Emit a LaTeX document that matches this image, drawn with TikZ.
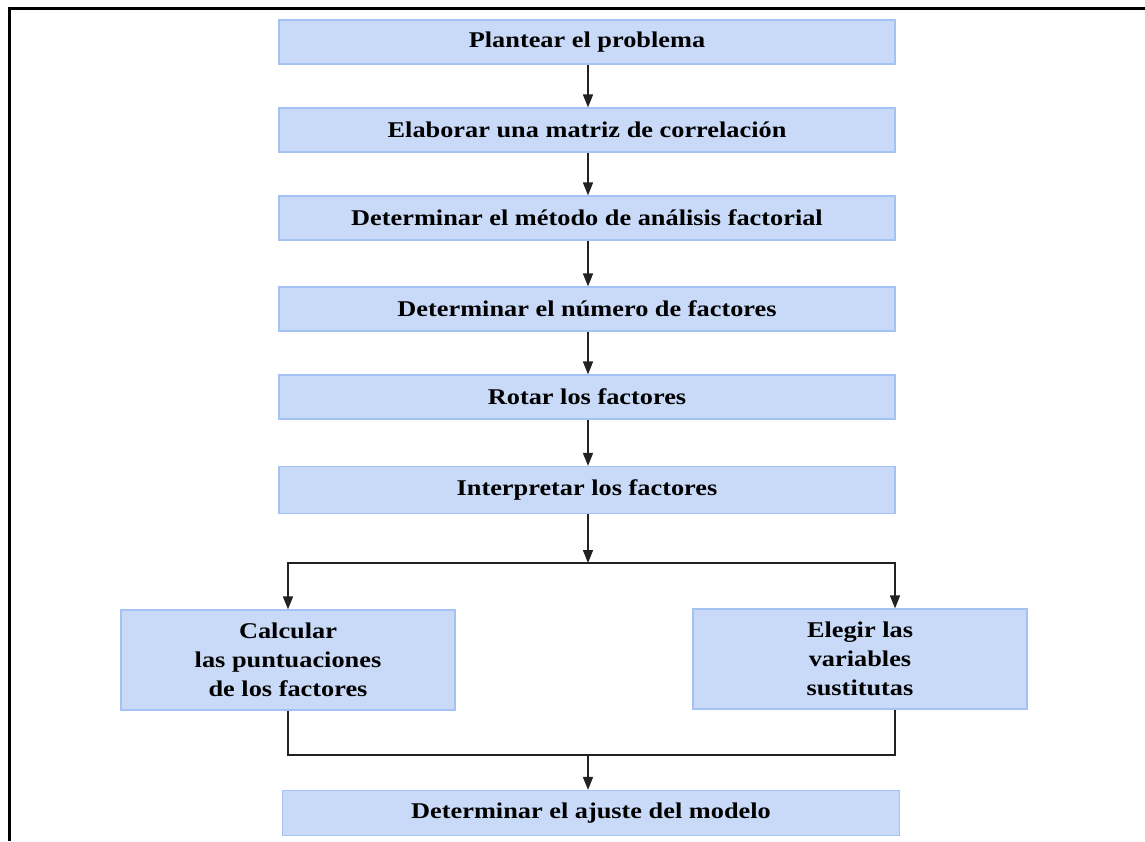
\documentclass[tikz,border=0pt]{standalone}
\usepackage{fontspec}
\setmainfont[FakeStretch=1.17]{Liberation Serif}
\usetikzlibrary{arrows.meta}
\definecolor{boxfill}{HTML}{C9DAF8}
\definecolor{boxline}{HTML}{A4C2F4}
\definecolor{linec}{HTML}{222222}
\begin{document}
\begin{tikzpicture}[x=1pt,y=-1pt,
  stepbox/.style={draw=boxline, fill=boxfill, line width=1.2pt, rectangle, inner sep=0pt,
    minimum width=616pt, minimum height=44pt, align=center,
    font=\fontsize{22.5}{29}\selectfont\bfseries},
  sidebox/.style={stepbox, minimum width=334pt, minimum height=100pt},
  conn/.style={draw=linec, line width=1.5pt},
  arr/.style={conn, -{Triangle[width=10pt,length=13pt]}}]
\useasboundingbox (0,0) rectangle (1145,841);
\draw[line width=3pt] (9,841) -- (9,8) -- (1145,8);
\node[stepbox] (b1) at (587,42) {Plantear el problema};
\node[stepbox] (b2) at (587,130) {Elaborar una matriz de correlación};
\node[stepbox] (b3) at (587,218) {Determinar el método de análisis factorial};
\node[stepbox] (b4) at (587,309) {Determinar el número de factores};
\node[stepbox] (b5) at (587,397) {Rotar los factores};
\node[stepbox, minimum height=47pt] (b6) at (587,490) {Interpretar los factores};
\node[sidebox] (b7) at (288,660) {Calcular\\las puntuaciones\\de los factores};
\node[sidebox] (b8) at (860,659) {Elegir las\\variables\\sustitutas};
\node[stepbox, minimum width=617pt, minimum height=45pt] (b9) at (591,813) {Determinar el ajuste del modelo};
\coordinate (j) at (588,563);
\coordinate (r) at (895,563);
\coordinate (m) at (588,755);
\foreach \a/\b in {b1/b2,b2/b3,b3/b4,b4/b5,b5/b6}
  \draw[arr] (\a.south -| j) -- (\b.north -| j);
\draw[arr] (b6.south -| j) -- (j);
\draw[arr] (j) -| (b7.north);
\draw[arr] (j) -- (r) -- (r |- b8.north);
\draw[conn] (b7.south) |- (m);
\draw[conn] (r |- b8.south) |- (m);
\draw[arr] (m) -- (m |- b9.north);
\end{tikzpicture}
\end{document}
